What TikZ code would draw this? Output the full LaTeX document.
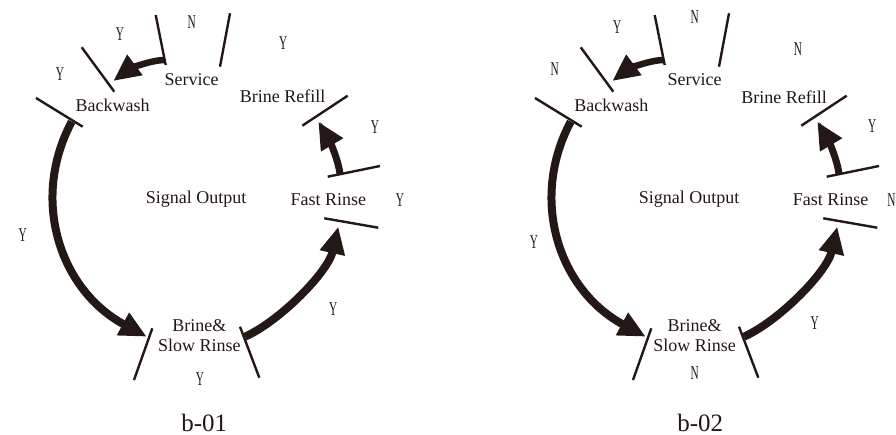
\documentclass[tikz,border=0pt]{standalone}
\usepackage{fontspec}
\setmainfont{Liberation Serif}
\usetikzlibrary{arrows.meta}
\definecolor{ink}{RGB}{35,24,21}
\newcommand\ynfont[1]{\scalebox{0.58}[1]{\fontsize{19.5}{19.5}\selectfont #1}}
\newcommand\drawcyc[2]{%
\begin{scope}[xshift=#2]
  % separator bars
  \draw[bar] (155.7,15) -- (165.7,65);
  \draw[bar] (230,13.3) -- (220,66.7);
  \draw[bar] (81.7,47.3) -- (114.3,91.7);
  \draw[bar] (36,98) -- (82.7,126.7);
  \draw[bar] (347.7,95.7) -- (302.3,125.7);
  \draw[bar] (327.7,176.7) -- (380,166);
  \draw[bar] (324.3,218.3) -- (378.3,227.7);
  \draw[bar] (152.3,328.3) -- (134,380);
  \draw[bar] (240,326.7) -- (259.3,377.7);
  % arrow end points
  \coordinate (#1s1) at (165,60);    \coordinate (#1e1) at (113.3,81);
  \coordinate (#1s2) at (71.7,121.7); \coordinate (#1e2) at (146.7,336.7);
  \coordinate (#1s3) at (245,336.7);  \coordinate (#1e3) at (338.3,226.7);
  \coordinate (#1s4) at (340,174);    \coordinate (#1e4) at (318.3,121.7);
  % arrows
  \draw[flow,line width=6.5pt] (#1s1) .. controls (150,60) and (128,70) .. (#1e1);
  \draw[flow,line width=8pt] (#1s2) .. controls (30,200) and (60,290) .. (#1e2);
  \draw[flow,line width=8pt] (#1s3) .. controls (280,321) and (328,272) .. (#1e3);
  \draw[flow,line width=7pt] (#1s4) .. controls (338,158) and (328,138) .. (#1e4);
\end{scope}}
\begin{document}
\begin{tikzpicture}[x=1pt,y=-1pt,
  every node/.style={text=ink,inner sep=0pt},
  bar/.style={draw=ink,line width=2.4pt},
  flow/.style={draw=ink,-{Triangle[length=27pt,width=24pt]}},
  lbl/.style={font=\fontsize{18}{20}\selectfont},
  captext/.style={font=\fontsize{25}{27}\selectfont},
  yn/.style={}]
\useasboundingbox (0,0) rectangle (896,435);
\fill[white] (0,0) rectangle (896,435);

\drawcyc{a}{0pt}
\drawcyc{b}{499pt}

% ---- left diagram texts
\node[lbl] (aService) at (191.7,79.3) {Service};
\node[lbl] (aBackwash) at (112.7,105.7) {Backwash};
\node[lbl] (aRefill) at (282.7,96) {Brine Refill};
\node[lbl] (aSignal) at (196,199.3) {Signal Output};
\node[lbl] (aFast) at (328.3,199.3) {Fast Rinse};
\node[lbl,align=center] (aBrine) at (199.3,335.7) {Brine\&\\Slow Rinse};
\node[captext] (aCap) at (204.3,422.7) {b-01};
\node[yn] (ay1) at (191.7,22.3) {\ynfont{N}};
\node[yn] (ay2) at (120,34.3) {\ynfont{Y}};
\node[yn] (ay3) at (283.3,42.7) {\ynfont{Y}};
\node[yn] (ay4) at (60,74) {\ynfont{Y}};
\node[yn] (ay5) at (375,126.7) {\ynfont{Y}};
\node[yn] (ay6) at (400,200) {\ynfont{Y}};
\node[yn] (ay7) at (22.7,235) {\ynfont{Y}};
\node[yn] (ay8) at (333.3,309.3) {\ynfont{Y}};
\node[yn] (ay9) at (200,379) {\ynfont{Y}};

% ---- right diagram texts
\node[lbl] (bService) at (694.7,79.3) {Service};
\node[lbl] (bBackwash) at (611.3,105.7) {Backwash};
\node[lbl] (bRefill) at (784,97.3) {Brine Refill};
\node[lbl] (bSignal) at (689,199.3) {Signal Output};
\node[lbl] (bFast) at (830.7,199.3) {Fast Rinse};
\node[lbl,align=center] (bBrine) at (694.7,335.7) {Brine\&\\Slow Rinse};
\node[captext] (bCap) at (700.3,422.7) {b-02};
\node[yn] (by1) at (694.7,17.3) {\ynfont{N}};
\node[yn] (by2) at (617.3,26.7) {\ynfont{Y}};
\node[yn] (by3) at (798,49.3) {\ynfont{N}};
\node[yn] (by4) at (554.7,69.3) {\ynfont{N}};
\node[yn] (by5) at (872.3,126) {\ynfont{Y}};
\node[yn] (by6) at (891.5,200) {\ynfont{N}};
\node[yn] (by7) at (534,241.7) {\ynfont{Y}};
\node[yn] (by8) at (814.7,323.3) {\ynfont{Y}};
\node[yn] (by9) at (694.7,373.3) {\ynfont{N}};
\end{tikzpicture}
\end{document}
